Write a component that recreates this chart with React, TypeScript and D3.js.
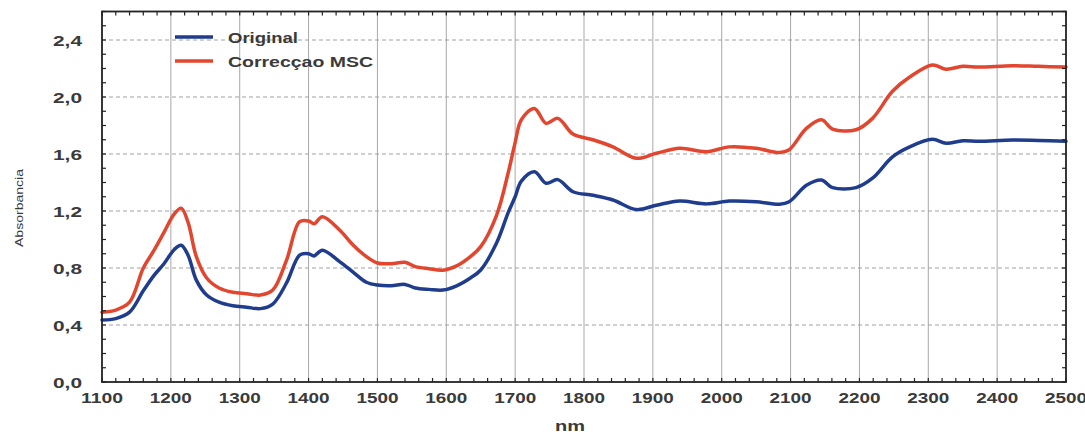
import React from "react";
import * as d3 from "d3";

const width = 1085;
const height = 434;
const margin = { top: 11.5, right: 19, bottom: 52, left: 102 };

// wavelengths (nm) and the two spectra
const wavelengths = [
  1100, 1120, 1140, 1160, 1175, 1190, 1205, 1215, 1225, 1237, 1252, 1270, 1290,
  1310, 1330, 1348, 1368, 1387, 1400, 1408, 1420, 1445, 1465, 1484, 1500, 1520,
  1540, 1555, 1575, 1595, 1615, 1635, 1650, 1673, 1690, 1700, 1709, 1728, 1745,
  1762, 1784, 1813, 1842, 1876, 1905, 1939, 1978, 2011, 2050, 2084, 2098, 2123,
  2145, 2161, 2195, 2219, 2248, 2273, 2306, 2326, 2350, 2374, 2422, 2460, 2500,
];
const original = [
  0.435, 0.445, 0.49, 0.64, 0.745, 0.83, 0.93, 0.96, 0.89, 0.715, 0.61, 0.56,
  0.535, 0.525, 0.515, 0.547, 0.695, 0.89, 0.9, 0.885, 0.925, 0.845, 0.77, 0.7,
  0.68, 0.675, 0.685, 0.66, 0.65, 0.645, 0.675, 0.73, 0.786, 0.975, 1.19, 1.3,
  1.41, 1.476, 1.395, 1.42, 1.335, 1.31, 1.277, 1.21, 1.24, 1.27, 1.25, 1.27,
  1.265, 1.247, 1.265, 1.38, 1.417, 1.364, 1.364, 1.43, 1.58, 1.65, 1.703, 1.675,
  1.693, 1.69, 1.698, 1.695, 1.69,
];
const msc = [
  0.49, 0.505, 0.56, 0.8, 0.92, 1.05, 1.18, 1.22, 1.12, 0.88, 0.73, 0.66, 0.63,
  0.62, 0.61, 0.645, 0.855, 1.125, 1.13, 1.11, 1.16, 1.067, 0.96, 0.88, 0.835,
  0.83, 0.84, 0.81, 0.795, 0.785, 0.815, 0.88, 0.95, 1.17, 1.47, 1.68, 1.84,
  1.92, 1.815, 1.85, 1.74, 1.7, 1.65, 1.57, 1.605, 1.64, 1.616, 1.65, 1.64, 1.61,
  1.63, 1.78, 1.84, 1.775, 1.77, 1.85, 2.04, 2.14, 2.225, 2.195, 2.215, 2.21,
  2.22, 2.215, 2.21,
];

const xTicks = [1100, 1200, 1300, 1400, 1500, 1600, 1700, 1800, 1900, 2000, 2100, 2200, 2300, 2400, 2500];
const yTicks = [0, 0.4, 0.8, 1.2, 1.6, 2.0, 2.4];
const seriesNames = ["Original", "Correcçao MSC"];
const colors = ["#1f3d8c", "#e2462f"];

const fmt = (v: number) => d3.format(".1f")(v).replace(".", ",");

export default function App() {
  const x = d3
    .scaleLinear()
    .domain([1100, 2500])
    .range([margin.left, width - margin.right]);
  const y = d3
    .scaleLinear()
    .domain([0, 2.6])
    .range([height - margin.bottom, margin.top]);

  const line = d3
    .line<number>()
    .x((_, i) => x(wavelengths[i]))
    .y((d) => y(d))
    .curve(d3.curveCatmullRom.alpha(0.5));

  const minorX = d3.range(1100, 2501, 20);
  const minorY = d3.range(0, 2.61, 0.1);
  const x0 = x.range()[0], x1 = x.range()[1];
  const y0 = y.range()[0], y1 = y.range()[1];
  const tl = 4;

  return (
    <svg
      width={width}
      height={height}
      style={{ position: "fixed", left: 0, top: 0, background: "#fff" }}
      fontFamily="'Liberation Sans', Arial, sans-serif"
    >
      {/* grid */}
      {xTicks.slice(1, -1).map((t) => (
        <line key={"gx" + t} x1={x(t)} x2={x(t)} y1={y1} y2={y0} stroke="#a8a8a8" strokeWidth={1} />
      ))}
      {yTicks.slice(1).map((t) => (
        <line key={"gy" + t} x1={x0} x2={x1} y1={y(t)} y2={y(t)} stroke="#a0a0a0" strokeWidth={1} strokeDasharray="4,3" />
      ))}

      {/* series */}
      {[original, msc].map((s, i) => (
        <path key={i} d={line(s) || ""} fill="none" stroke={colors[i]} strokeWidth={3.5} strokeLinejoin="round" strokeLinecap="round" />
      ))}

      {/* frame and inward ticks */}
      <rect x={x0} y={y1} width={x1 - x0} height={y0 - y1} fill="none" stroke="#222" strokeWidth={1.8} />
      {minorX.map((t) => (
        <g key={"tx" + t} stroke="#222" strokeWidth={1.2}>
          <line x1={x(t)} x2={x(t)} y1={y0} y2={y0 - tl} />
          <line x1={x(t)} x2={x(t)} y1={y1} y2={y1 + tl} />
        </g>
      ))}
      {minorY.map((t) => (
        <g key={"ty" + t.toFixed(1)} stroke="#222" strokeWidth={1.2}>
          <line x1={x0} x2={x0 + tl} y1={y(t)} y2={y(t)} />
          <line x1={x1} x2={x1 - tl} y1={y(t)} y2={y(t)} />
        </g>
      ))}

      {/* tick labels */}
      {xTicks.map((t) => (
        <text key={"lx" + t} x={x(t)} y={403} textAnchor="middle" fontSize={15} fontWeight="bold" fill="#3a3a3a" textLength={42} lengthAdjust="spacingAndGlyphs">
          {t}
        </text>
      ))}
      {yTicks.map((t) => (
        <text key={"ly" + t} x={82} y={y(t) + 5.5} textAnchor="end" fontSize={15} fontWeight="bold" fill="#3a3a3a" textLength={29} lengthAdjust="spacingAndGlyphs">
          {fmt(t)}
        </text>
      ))}

      {/* axis titles */}
      <text x={570} y={431} textAnchor="middle" fontSize={14} fontWeight="bold" fill="#3a3a3a" textLength={30} lengthAdjust="spacingAndGlyphs">
        nm
      </text>
      <text transform="translate(23,208) rotate(-90)" textAnchor="middle" fontSize={11} fill="#3a3a3a" textLength={78} lengthAdjust="spacingAndGlyphs">
        Absorbancia
      </text>

      {/* legend */}
      {seriesNames.map((n, i) => (
        <g key={n} transform={`translate(175,${37 + i * 24})`}>
          <line x1={0} x2={38} y1={0} y2={0} stroke={colors[i]} strokeWidth={3.5} />
          <text x={53} y={5.5} fontSize={14} fontWeight="bold" fill="#3a3a3a" textLength={i === 0 ? 70 : 145} lengthAdjust="spacingAndGlyphs">
            {n}
          </text>
        </g>
      ))}
    </svg>
  );
}
